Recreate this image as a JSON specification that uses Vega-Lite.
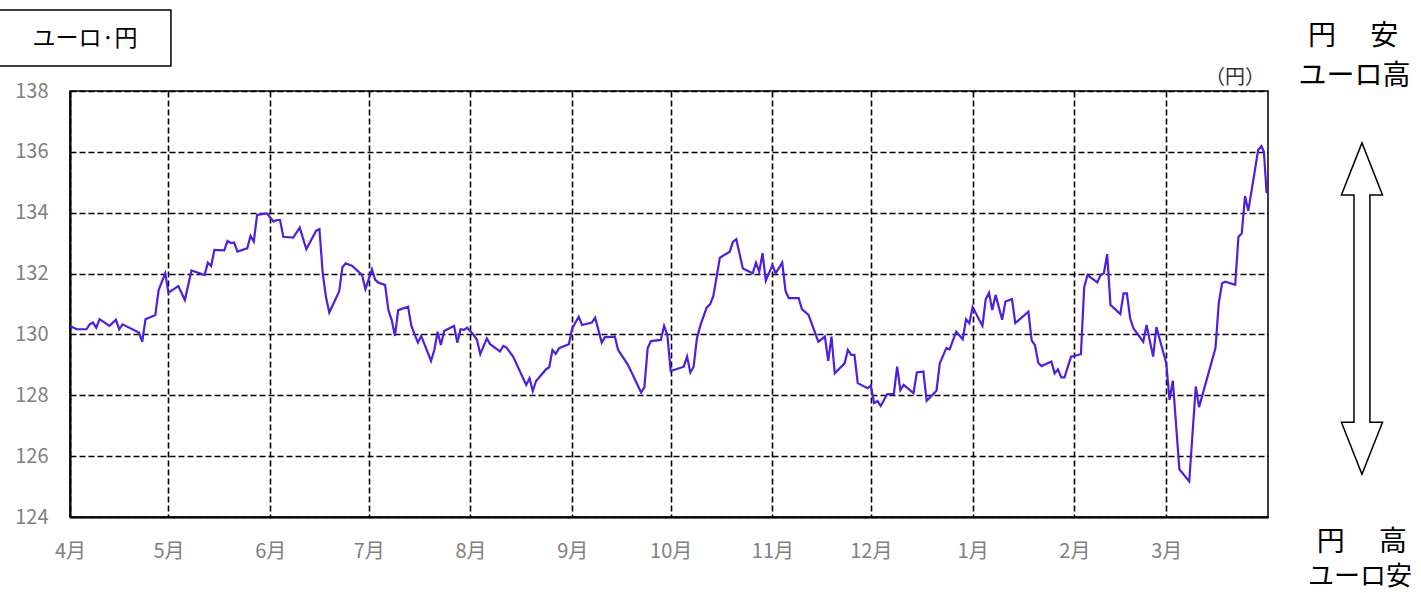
{
  "$schema": "https://vega.github.io/schema/vega-lite/v6.json",
  "width": 1198,
  "height": 426,
  "autosize": {"type": "none"},
  "padding": {"left": 70, "top": 91, "right": 153, "bottom": 76},
  "background": "white",
  "config": {
    "view": {"stroke": "black", "strokeWidth": 1.5},
    "axis": {
      "domainColor": "black",
      "domainWidth": 2,
      "grid": true,
      "gridColor": "black",
      "gridDash": [6, 3],
      "gridWidth": 1.6,
      "gridOpacity": 1,
      "ticks": false,
      "labelColor": "#808080",
      "labelFont": "Noto Sans CJK JP",
      "labelFontSize": 20,
      "title": null
    }
  },
  "layer": [
    {
      "data": {
        "values": [
          {"date": "2021/04/01", "rate": 130.28},
          {"date": "2021/04/03", "rate": 130.17},
          {"date": "2021/04/06", "rate": 130.17},
          {"date": "2021/04/07", "rate": 130.33},
          {"date": "2021/04/08", "rate": 130.39},
          {"date": "2021/04/09", "rate": 130.22},
          {"date": "2021/04/10", "rate": 130.50},
          {"date": "2021/04/13", "rate": 130.28},
          {"date": "2021/04/15", "rate": 130.48},
          {"date": "2021/04/16", "rate": 130.17},
          {"date": "2021/04/17", "rate": 130.33},
          {"date": "2021/04/22", "rate": 130.06},
          {"date": "2021/04/23", "rate": 129.76},
          {"date": "2021/04/24", "rate": 130.50},
          {"date": "2021/04/27", "rate": 130.64},
          {"date": "2021/04/28", "rate": 131.46},
          {"date": "2021/04/30", "rate": 132.01},
          {"date": "2021/05/01", "rate": 131.37},
          {"date": "2021/05/04", "rate": 131.59},
          {"date": "2021/05/06", "rate": 131.13},
          {"date": "2021/05/08", "rate": 132.10},
          {"date": "2021/05/12", "rate": 131.95},
          {"date": "2021/05/13", "rate": 132.36},
          {"date": "2021/05/14", "rate": 132.25},
          {"date": "2021/05/15", "rate": 132.78},
          {"date": "2021/05/18", "rate": 132.76},
          {"date": "2021/05/19", "rate": 133.07},
          {"date": "2021/05/20", "rate": 133.00},
          {"date": "2021/05/21", "rate": 133.02},
          {"date": "2021/05/22", "rate": 132.72},
          {"date": "2021/05/25", "rate": 132.83},
          {"date": "2021/05/26", "rate": 133.24},
          {"date": "2021/05/27", "rate": 133.05},
          {"date": "2021/05/28", "rate": 133.93},
          {"date": "2021/05/31", "rate": 133.98},
          {"date": "2021/06/02", "rate": 133.71},
          {"date": "2021/06/03", "rate": 133.76},
          {"date": "2021/06/04", "rate": 133.76},
          {"date": "2021/06/05", "rate": 133.21},
          {"date": "2021/06/08", "rate": 133.18},
          {"date": "2021/06/10", "rate": 133.51},
          {"date": "2021/06/12", "rate": 132.80},
          {"date": "2021/06/15", "rate": 133.41},
          {"date": "2021/06/16", "rate": 133.46},
          {"date": "2021/06/17", "rate": 132.01},
          {"date": "2021/06/18", "rate": 131.22},
          {"date": "2021/06/19", "rate": 130.72},
          {"date": "2021/06/22", "rate": 131.41},
          {"date": "2021/06/23", "rate": 132.21},
          {"date": "2021/06/24", "rate": 132.34},
          {"date": "2021/06/26", "rate": 132.25},
          {"date": "2021/06/29", "rate": 131.95},
          {"date": "2021/06/30", "rate": 131.49},
          {"date": "2021/07/02", "rate": 132.14},
          {"date": "2021/07/03", "rate": 131.79},
          {"date": "2021/07/04", "rate": 131.70},
          {"date": "2021/07/06", "rate": 131.63},
          {"date": "2021/07/07", "rate": 130.80},
          {"date": "2021/07/08", "rate": 130.48},
          {"date": "2021/07/09", "rate": 129.95},
          {"date": "2021/07/10", "rate": 130.80},
          {"date": "2021/07/13", "rate": 130.91},
          {"date": "2021/07/14", "rate": 130.28},
          {"date": "2021/07/16", "rate": 129.73},
          {"date": "2021/07/17", "rate": 129.95},
          {"date": "2021/07/20", "rate": 129.13},
          {"date": "2021/07/21", "rate": 129.49},
          {"date": "2021/07/22", "rate": 130.09},
          {"date": "2021/07/23", "rate": 129.65},
          {"date": "2021/07/24", "rate": 130.11},
          {"date": "2021/07/27", "rate": 130.28},
          {"date": "2021/07/28", "rate": 129.73},
          {"date": "2021/07/29", "rate": 130.17},
          {"date": "2021/07/30", "rate": 130.15},
          {"date": "2021/07/31", "rate": 130.22},
          {"date": "2021/08/02", "rate": 129.98},
          {"date": "2021/08/03", "rate": 129.82},
          {"date": "2021/08/04", "rate": 129.35},
          {"date": "2021/08/06", "rate": 129.87},
          {"date": "2021/08/07", "rate": 129.68},
          {"date": "2021/08/10", "rate": 129.44},
          {"date": "2021/08/11", "rate": 129.62},
          {"date": "2021/08/12", "rate": 129.57},
          {"date": "2021/08/14", "rate": 129.27},
          {"date": "2021/08/18", "rate": 128.34},
          {"date": "2021/08/19", "rate": 128.56},
          {"date": "2021/08/20", "rate": 128.14},
          {"date": "2021/08/21", "rate": 128.47},
          {"date": "2021/08/24", "rate": 128.85},
          {"date": "2021/08/25", "rate": 128.92},
          {"date": "2021/08/26", "rate": 129.49},
          {"date": "2021/08/27", "rate": 129.36},
          {"date": "2021/08/28", "rate": 129.55},
          {"date": "2021/08/31", "rate": 129.68},
          {"date": "2021/09/01", "rate": 130.20},
          {"date": "2021/09/03", "rate": 130.58},
          {"date": "2021/09/04", "rate": 130.31},
          {"date": "2021/09/07", "rate": 130.39},
          {"date": "2021/09/08", "rate": 130.55},
          {"date": "2021/09/10", "rate": 129.73},
          {"date": "2021/09/11", "rate": 129.91},
          {"date": "2021/09/14", "rate": 129.93},
          {"date": "2021/09/15", "rate": 129.49},
          {"date": "2021/09/18", "rate": 129.00},
          {"date": "2021/09/22", "rate": 128.09},
          {"date": "2021/09/23", "rate": 128.26},
          {"date": "2021/09/24", "rate": 129.55},
          {"date": "2021/09/25", "rate": 129.78},
          {"date": "2021/09/28", "rate": 129.82},
          {"date": "2021/09/29", "rate": 130.28},
          {"date": "2021/09/30", "rate": 129.98},
          {"date": "2021/10/01", "rate": 128.80},
          {"date": "2021/10/05", "rate": 128.94},
          {"date": "2021/10/06", "rate": 129.27},
          {"date": "2021/10/07", "rate": 128.75},
          {"date": "2021/10/08", "rate": 128.94},
          {"date": "2021/10/09", "rate": 129.87},
          {"date": "2021/10/10", "rate": 130.28},
          {"date": "2021/10/12", "rate": 130.89},
          {"date": "2021/10/13", "rate": 130.99},
          {"date": "2021/10/14", "rate": 131.26},
          {"date": "2021/10/16", "rate": 132.52},
          {"date": "2021/10/19", "rate": 132.72},
          {"date": "2021/10/20", "rate": 133.05},
          {"date": "2021/10/21", "rate": 133.13},
          {"date": "2021/10/23", "rate": 132.17},
          {"date": "2021/10/26", "rate": 132.01},
          {"date": "2021/10/27", "rate": 132.36},
          {"date": "2021/10/28", "rate": 132.06},
          {"date": "2021/10/29", "rate": 132.67},
          {"date": "2021/10/30", "rate": 131.77},
          {"date": "2021/11/01", "rate": 132.28},
          {"date": "2021/11/02", "rate": 132.01},
          {"date": "2021/11/04", "rate": 132.36},
          {"date": "2021/11/05", "rate": 131.43},
          {"date": "2021/11/06", "rate": 131.19},
          {"date": "2021/11/09", "rate": 131.19},
          {"date": "2021/11/10", "rate": 130.83},
          {"date": "2021/11/12", "rate": 130.64},
          {"date": "2021/11/15", "rate": 129.76},
          {"date": "2021/11/17", "rate": 129.93},
          {"date": "2021/11/18", "rate": 129.13},
          {"date": "2021/11/19", "rate": 129.93},
          {"date": "2021/11/20", "rate": 128.72},
          {"date": "2021/11/23", "rate": 129.05},
          {"date": "2021/11/24", "rate": 129.49},
          {"date": "2021/11/25", "rate": 129.33},
          {"date": "2021/11/26", "rate": 129.33},
          {"date": "2021/11/27", "rate": 128.40},
          {"date": "2021/11/30", "rate": 128.23},
          {"date": "2021/12/01", "rate": 128.32},
          {"date": "2021/12/02", "rate": 127.74},
          {"date": "2021/12/03", "rate": 127.81},
          {"date": "2021/12/04", "rate": 127.65},
          {"date": "2021/12/06", "rate": 128.04},
          {"date": "2021/12/08", "rate": 128.04},
          {"date": "2021/12/09", "rate": 128.94},
          {"date": "2021/12/10", "rate": 128.17},
          {"date": "2021/12/11", "rate": 128.34},
          {"date": "2021/12/14", "rate": 128.07},
          {"date": "2021/12/15", "rate": 128.75},
          {"date": "2021/12/17", "rate": 128.78},
          {"date": "2021/12/18", "rate": 127.82},
          {"date": "2021/12/21", "rate": 128.15},
          {"date": "2021/12/22", "rate": 129.05},
          {"date": "2021/12/24", "rate": 129.55},
          {"date": "2021/12/25", "rate": 129.51},
          {"date": "2021/12/27", "rate": 130.09},
          {"date": "2021/12/29", "rate": 129.84},
          {"date": "2021/12/30", "rate": 130.50},
          {"date": "2021/12/31", "rate": 130.37},
          {"date": "2022/01/01", "rate": 130.90},
          {"date": "2022/01/04", "rate": 130.28},
          {"date": "2022/01/05", "rate": 131.16},
          {"date": "2022/01/06", "rate": 131.37},
          {"date": "2022/01/07", "rate": 130.80},
          {"date": "2022/01/08", "rate": 131.30},
          {"date": "2022/01/10", "rate": 130.48},
          {"date": "2022/01/11", "rate": 131.08},
          {"date": "2022/01/13", "rate": 131.16},
          {"date": "2022/01/14", "rate": 130.37},
          {"date": "2022/01/18", "rate": 130.75},
          {"date": "2022/01/19", "rate": 129.80},
          {"date": "2022/01/20", "rate": 129.65},
          {"date": "2022/01/21", "rate": 129.07},
          {"date": "2022/01/22", "rate": 128.96},
          {"date": "2022/01/25", "rate": 129.11},
          {"date": "2022/01/26", "rate": 128.72},
          {"date": "2022/01/27", "rate": 128.85},
          {"date": "2022/01/28", "rate": 128.59},
          {"date": "2022/01/29", "rate": 128.59},
          {"date": "2022/01/31", "rate": 129.27},
          {"date": "2022/02/03", "rate": 129.35},
          {"date": "2022/02/04", "rate": 131.55},
          {"date": "2022/02/05", "rate": 131.95},
          {"date": "2022/02/08", "rate": 131.71},
          {"date": "2022/02/09", "rate": 131.95},
          {"date": "2022/02/10", "rate": 132.01},
          {"date": "2022/02/11", "rate": 132.64},
          {"date": "2022/02/12", "rate": 130.97},
          {"date": "2022/02/15", "rate": 130.67},
          {"date": "2022/02/16", "rate": 131.35},
          {"date": "2022/02/17", "rate": 131.35},
          {"date": "2022/02/18", "rate": 130.53},
          {"date": "2022/02/19", "rate": 130.20},
          {"date": "2022/02/22", "rate": 129.76},
          {"date": "2022/02/23", "rate": 130.31},
          {"date": "2022/02/25", "rate": 129.27},
          {"date": "2022/02/26", "rate": 130.24},
          {"date": "2022/03/01", "rate": 129.05},
          {"date": "2022/03/02", "rate": 127.85},
          {"date": "2022/03/03", "rate": 128.48},
          {"date": "2022/03/05", "rate": 125.57},
          {"date": "2022/03/08", "rate": 125.17},
          {"date": "2022/03/10", "rate": 128.29},
          {"date": "2022/03/11", "rate": 127.61},
          {"date": "2022/03/16", "rate": 129.55},
          {"date": "2022/03/17", "rate": 131.03},
          {"date": "2022/03/18", "rate": 131.68},
          {"date": "2022/03/19", "rate": 131.73},
          {"date": "2022/03/22", "rate": 131.63},
          {"date": "2022/03/23", "rate": 133.21},
          {"date": "2022/03/24", "rate": 133.32},
          {"date": "2022/03/25", "rate": 134.55},
          {"date": "2022/03/26", "rate": 134.06},
          {"date": "2022/03/29", "rate": 136.06},
          {"date": "2022/03/30", "rate": 136.19},
          {"date": "2022/03/30 18:00", "rate": 136.00},
          {"date": "2022/03/31 14:00", "rate": 134.64}
        ]
      },
      "mark": {"type": "line", "color": "#4f1fe0", "strokeWidth": 2.2, "clip": true},
      "encoding": {
        "x": {
          "field": "date",
          "type": "temporal",
          "scale": {"domain": [{"year": 2021, "month": 4, "date": 1}, {"year": 2022, "month": 4, "date": 1}]},
          "axis": {
            "values": [
              {"year": 2021, "month": 4, "date": 1},
              {"year": 2021, "month": 5, "date": 1},
              {"year": 2021, "month": 6, "date": 1},
              {"year": 2021, "month": 7, "date": 1},
              {"year": 2021, "month": 8, "date": 1},
              {"year": 2021, "month": 9, "date": 1},
              {"year": 2021, "month": 10, "date": 1},
              {"year": 2021, "month": 11, "date": 1},
              {"year": 2021, "month": 12, "date": 1},
              {"year": 2022, "month": 1, "date": 1},
              {"year": 2022, "month": 2, "date": 1},
              {"year": 2022, "month": 3, "date": 1}
            ],
            "labelExpr": "(month(datum.value) + 1) + '月'",
            "labelPadding": 24,
            "labelAlign": "center",
            "labelFlush": false,
            "labelBound": false,
            "labelOverlap": false
          }
        },
        "y": {
          "field": "rate",
          "type": "quantitative",
          "scale": {"domain": [124, 138], "nice": false, "zero": false},
          "axis": {
            "values": [124, 126, 128, 130, 132, 134, 136, 138],
            "labelPadding": 22,
            "labelBaseline": "middle"
          }
        }
      }
    },
    {
      "data": {"values": [{}]},
      "mark": {"type": "rect", "fill": "white", "stroke": "black", "strokeWidth": 1.5},
      "encoding": {
        "x": {"datum": {"year": 2021, "month": 3, "date": 10, "hours": 1}, "type": "temporal"},
        "x2": {"datum": {"year": 2021, "month": 5, "date": 1, "hours": 18}},
        "y": {"datum": 140.66, "type": "quantitative"},
        "y2": {"datum": 138.82}
      }
    },
    {
      "data": {"values": [{}]},
      "mark": {"type": "text", "text": "ユーロ·円", "font": "Noto Sans CJK JP", "fontSize": 23, "color": "black", "align": "center", "baseline": "middle"},
      "encoding": {
        "x": {"datum": {"year": 2021, "month": 4, "date": 5, "hours": 14}, "type": "temporal"},
        "y": {"datum": 139.71, "type": "quantitative"}
      }
    },
    {
      "data": {"values": [{}]},
      "mark": {"type": "text", "text": "（円）", "font": "Noto Sans CJK JP", "fontSize": 20, "color": "#333333", "align": "right", "baseline": "middle"},
      "encoding": {
        "x": {"datum": {"year": 2022, "month": 3, "date": 31, "hours": 2}, "type": "temporal"},
        "y": {"datum": 138.43, "type": "quantitative"}
      }
    },
    {
      "data": {"values": [{}]},
      "mark": {"type": "text", "text": "円 　安", "font": "Noto Sans CJK JP", "fontSize": 28, "color": "black", "align": "center", "baseline": "middle"},
      "encoding": {
        "x": {"datum": {"year": 2022, "month": 4, "date": 26, "hours": 22}, "type": "temporal"},
        "y": {"datum": 139.76, "type": "quantitative"}
      }
    },
    {
      "data": {"values": [{}]},
      "mark": {"type": "text", "text": "ユーロ高", "font": "Noto Sans CJK JP", "fontSize": 28, "color": "black", "align": "center", "baseline": "middle"},
      "encoding": {
        "x": {"datum": {"year": 2022, "month": 4, "date": 27, "hours": 8}, "type": "temporal"},
        "y": {"datum": 138.46, "type": "quantitative"}
      }
    },
    {
      "data": {"values": [{}]},
      "mark": {"type": "text", "text": "円 　高", "font": "Noto Sans CJK JP", "fontSize": 28, "color": "black", "align": "center", "baseline": "middle"},
      "encoding": {
        "x": {"datum": {"year": 2022, "month": 4, "date": 29, "hours": 15}, "type": "temporal"},
        "y": {"datum": 123.16, "type": "quantitative"}
      }
    },
    {
      "data": {"values": [{}]},
      "mark": {"type": "text", "text": "ユーロ安", "font": "Noto Sans CJK JP", "fontSize": 26, "color": "black", "align": "center", "baseline": "middle"},
      "encoding": {
        "x": {"datum": {"year": 2022, "month": 4, "date": 29, "hours": 0}, "type": "temporal"},
        "y": {"datum": 122.03, "type": "quantitative"}
      }
    },
    {
      "data": {"values": [{}]},
      "mark": {
        "type": "point",
        "shape": "M0,-1 L0.124,-0.686 L0.048,-0.686 L0.048,0.686 L0.124,0.686 L0,1 L-0.124,0.686 L-0.048,0.686 L-0.048,-0.686 L-0.124,-0.686 Z",
        "size": 109826,
        "filled": true,
        "fill": "white",
        "stroke": "black",
        "strokeWidth": 1.5,
        "opacity": 1
      },
      "encoding": {
        "x": {"datum": {"year": 2022, "month": 4, "date": 29, "hours": 15}, "type": "temporal"},
        "y": {"datum": 130.85, "type": "quantitative"}
      }
    }
  ]
}
